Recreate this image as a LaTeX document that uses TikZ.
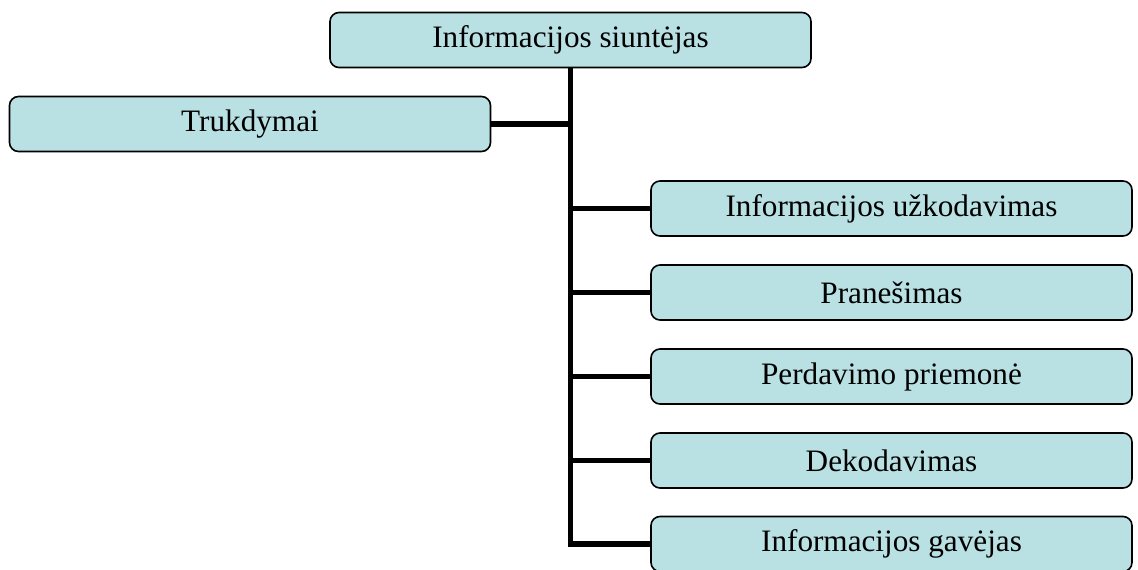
\documentclass[tikz,border=0pt]{standalone}
\usepackage{fontspec}
\setmainfont{Liberation Serif}
\definecolor{boxfill}{RGB}{185,224,227}
\begin{document}
\begin{tikzpicture}[x=1pt,y=-1pt,
  box/.style={draw=black, line width=1.6pt, fill=boxfill, rounded corners=9pt,
    minimum width=481pt, minimum height=55pt, inner sep=0pt,
    font=\fontsize{31.2}{34}\selectfont},
  link/.style={line width=5.2pt, line join=miter}]
\useasboundingbox (0,0) rectangle (1138,570);
\node[box] (top) at (570.5,40) {Informacijos siuntėjas};
\node[box] (truk) at (250,124) {Trukdymai};
\node[box] (enc) at (891.5,208.5) {Informacijos užkodavimas};
\node[box] (msg) at (891.5,292.5) {Pranešimas};
\node[box] (med) at (891.5,376.5) {Perdavimo priemonė};
\node[box] (dec) at (891.5,460.5) {Dekodavimas};
\node[box] (rcv) at (891.5,544) {Informacijos gavėjas};
\draw[link] (top.south) -- (top.south |- rcv.west) -- (rcv.west);
\draw[link] (truk.east) -- (truk.east -| top.south);
\draw[link] (top.south |- enc.west) -- (enc.west);
\draw[link] (top.south |- msg.west) -- (msg.west);
\draw[link] (top.south |- med.west) -- (med.west);
\draw[link] (top.south |- dec.west) -- (dec.west);
\end{tikzpicture}
\end{document}
